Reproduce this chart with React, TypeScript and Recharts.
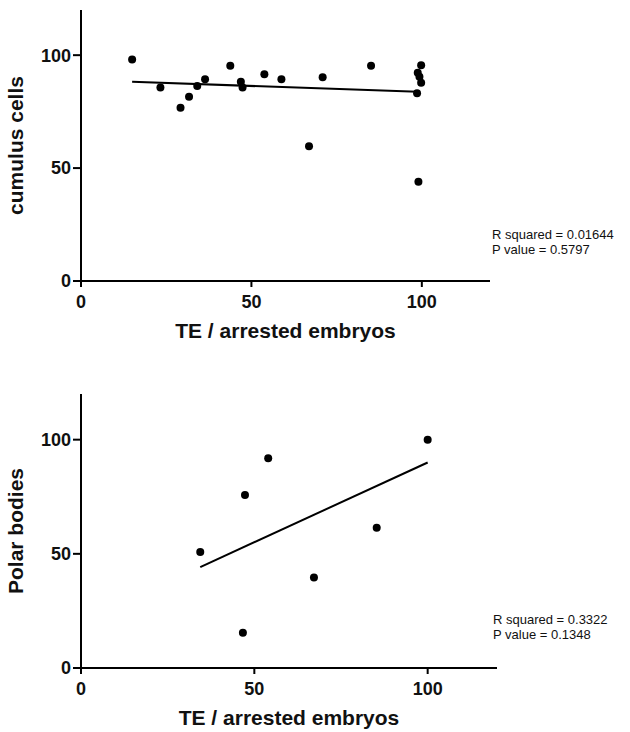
import { ScatterChart, Scatter, XAxis, YAxis } from "recharts"

// TE / arrested embryos vs cumulus cells
const cumulusX = [15, 23.3, 29.2, 31.7, 34.1, 36.4, 43.8, 46.9, 47.4, 53.8, 58.8, 66.9, 70.9, 85.1, 99.8, 98.8, 99.3, 99.8, 98.6, 99]
const cumulusY = [98.1, 85.7, 76.7, 81.6, 86.3, 89.3, 95.3, 88.2, 85.7, 91.5, 89.3, 59.7, 90.2, 95.3, 95.5, 92.2, 90.4, 87.8, 83.1, 43.9]
const cumulusFitX = [15, 98.8]
const cumulusFitY = [88.2, 83.8]

// TE / arrested embryos vs polar bodies
const polarX = [34.4, 47.3, 54, 46.7, 67.2, 85.3, 100]
const polarY = [50.8, 75.8, 91.9, 15.4, 39.6, 61.4, 100]
const polarFitX = [34.4, 100]
const polarFitY = [44.2, 90]

const xTicks = [0, 50, 100]
const yTicks = [0, 50, 100]

const toPoints = (xs: number[], ys: number[]) => xs.map((x, i) => ({ x, y: ys[i] }))

const font = "'Liberation Sans', Arial, sans-serif"
const tickStyle = { fontSize: 18, fontWeight: 700, fill: "#111", fontFamily: font }
const labelStyle = { fontSize: 21, fontWeight: 700, fill: "#111", fontFamily: font }
const axisLine = { stroke: "#000", strokeWidth: 2 }

const Dot = (props: any) => <circle cx={props.cx} cy={props.cy} r={4} fill="#000" />

interface PanelProps {
  top: number
  height: number
  right: number
  yLabel: string
  points: { x: number; y: number }[]
  fit: { x: number; y: number }[]
  stats: string[]
  statsTop: number
  statsLeft: number
}

function Panel({ top, height, right, yLabel, points, fit, stats, statsTop, statsLeft }: PanelProps) {
  return (
    <>
      <div style={{ position: "absolute", top, left: 0 }}>
        <ScatterChart width={630} height={height} margin={{ top: 10, right, left: 0, bottom: 0 }}>
          <XAxis
            type="number"
            dataKey="x"
            domain={[0, 120]}
            ticks={xTicks}
            height={64}
            axisLine={axisLine}
            tickLine={axisLine}
            tickSize={6}
            tickMargin={8}
            tick={tickStyle}
            label={{ value: "TE / arrested embryos", position: "insideBottom", offset: 7, style: labelStyle }}
          />
          <YAxis
            type="number"
            dataKey="y"
            domain={[0, 120]}
            ticks={yTicks}
            width={81}
            axisLine={axisLine}
            tickLine={axisLine}
            tickSize={8}
            tickMargin={2}
            tick={tickStyle}
            label={{ value: yLabel, angle: -90, position: "insideLeft", offset: 16, style: { ...labelStyle, textAnchor: "middle" } }}
          />
          <Scatter data={points} shape={<Dot />} isAnimationActive={false} />
          <Scatter
            data={fit}
            line={{ stroke: "#000", strokeWidth: 2 }}
            shape={() => <g />}
            isAnimationActive={false}
          />
        </ScatterChart>
      </div>
      <div
        style={{
          position: "absolute",
          top: statsTop,
          left: statsLeft,
          fontFamily: font,
          fontSize: 13,
          lineHeight: "15px",
          color: "#111",
          whiteSpace: "nowrap",
        }}
      >
        {stats.map((s) => (
          <div key={s}>{s}</div>
        ))}
      </div>
    </>
  )
}

export default function App() {
  return (
    <div style={{ position: "absolute", top: 0, left: 0, width: 630, height: 732, background: "#fff" }}>
      <Panel
        top={0}
        height={345}
        right={140}
        yLabel="cumulus cells"
        points={toPoints(cumulusX, cumulusY)}
        fit={toPoints(cumulusFitX, cumulusFitY)}
        stats={["R squared = 0.01644", "P value = 0.5797"]}
        statsTop={227}
        statsLeft={492}
      />
      <Panel
        top={384}
        height={348}
        right={133}
        yLabel="Polar bodies"
        points={toPoints(polarX, polarY)}
        fit={toPoints(polarFitX, polarFitY)}
        stats={["R squared = 0.3322", "P value = 0.1348"]}
        statsTop={612}
        statsLeft={493}
      />
    </div>
  )
}
